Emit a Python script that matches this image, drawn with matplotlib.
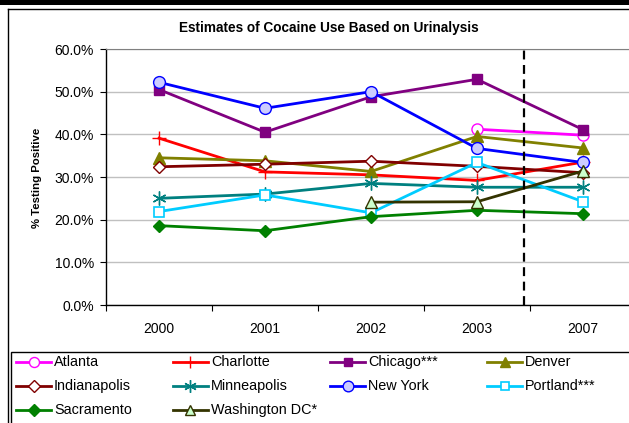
import matplotlib
matplotlib.use('Agg')
import matplotlib.pyplot as plt
from matplotlib.lines import Line2D
from matplotlib.patches import Rectangle
from matplotlib.ticker import FuncFormatter, FixedLocator
import numpy as np

plt.rcParams['font.family'] = ['Liberation Sans', 'DejaVu Sans']

years = ['2000', '2001', '2002', '2003', '2007']
atlanta = [np.nan, np.nan, np.nan, 41.2, 39.8]
charlotte = [39.1, 31.2, 30.5, 29.2, 33.5]
chicago = [50.5, 40.5, 48.8, 52.9, 41.1]
denver = [34.5, 33.8, 31.3, 39.5, 36.8]
indianapolis = [32.4, 33.0, 33.7, 32.5, 31.0]
minneapolis = [25.0, 26.0, 28.5, 27.6, 27.6]
new_york = [52.2, 46.1, 50.0, 36.7, 33.4]
portland = [21.9, 25.8, 21.6, 33.4, 24.2]
sacramento = [18.6, 17.4, 20.7, 22.2, 21.4]
washington = [np.nan, np.nan, 24.1, 24.2, 31.4]

names = ['Atlanta', 'Charlotte', 'Chicago***', 'Denver', 'Indianapolis',
         'Minneapolis', 'New York', 'Portland***', 'Sacramento', 'Washington DC*']
values = [atlanta, charlotte, chicago, denver, indianapolis,
          minneapolis, new_york, portland, sacramento, washington]

asterisk = (6, 2, 0)
styles = [
    dict(color='#FF00FF', marker='o', mfc='white', mec='#FF00FF', ms=8, mew=1.0),
    dict(color='#FF0000', marker='+', mfc='#FF0000', mec='#FF0000', ms=10, mew=1.0),
    dict(color='#800080', marker='s', mfc='#800080', mec='#800080', ms=6.8, mew=1.0),
    dict(color='#808000', marker='^', mfc='#808000', mec='#808000', ms=8, mew=1.0),
    dict(color='#800000', marker='D', mfc='white', mec='#800000', ms=6.5, mew=1.0),
    dict(color='#008080', marker=asterisk, mfc='#008080', mec='#008080', ms=10, mew=1.0),
    dict(color='#0000FF', marker='o', mfc='#CCCCFF', mec='#0000FF', ms=8.5, mew=1.0),
    dict(color='#00CCFF', marker='s', mfc='white', mec='#00CCFF', ms=7, mew=1.2),
    dict(color='#008000', marker='D', mfc='#008000', mec='#008000', ms=6.5, mew=1.0),
    dict(color='#333300', marker='^', mfc='#CCFFCC', mec='#333300', ms=8.5, mew=1.0),
]

W, H = 629, 423
fig = plt.figure(figsize=(W / 100, H / 100), dpi=100)


def fx(x):
    return x / W


def fy(y):
    return 1 - y / H


# top black bar and chart border
fig.add_artist(Rectangle((0, fy(5)), 1, 5 / H, transform=fig.transFigure,
                         facecolor='black', edgecolor='none'))
fig.add_artist(Line2D([fx(8), fx(8)], [fy(9), fy(430)], transform=fig.transFigure,
                      color='black', lw=1.0))
fig.add_artist(Line2D([fx(8), fx(640)], [fy(9), fy(9)], transform=fig.transFigure,
                      color='black', lw=1.0))

ax = fig.add_axes([fx(106), fy(305), 530 / W, 256 / H])
x = np.arange(len(years))
for name, vals, st in zip(names, values, styles):
    ax.plot(x, vals, lw=2.0, color=st['color'], marker=st['marker'],
            markerfacecolor=st['mfc'], markeredgecolor=st['mec'],
            markersize=st['ms'], markeredgewidth=st['mew'], clip_on=False)

ax.axvline(3.44, color='black', lw=1.6, ls=(0, (4, 2.5)), zorder=5)

ax.set_xlim(-0.5, 4.5)
ax.set_ylim(0, 60)
ax.set_yticks(np.arange(0, 61, 10))
ax.yaxis.set_major_formatter(FuncFormatter(lambda v, p: f'{v:.1f}%'))
ax.xaxis.set_major_locator(FixedLocator(np.arange(-0.5, 4.6, 1)))
ax.xaxis.set_major_formatter(FuncFormatter(lambda v, p: ''))
ax.xaxis.set_minor_locator(FixedLocator(x))
ax.set_xticklabels(years, minor=True)
ax.tick_params(axis='x', which='major', direction='out', length=4.3, width=0.8, color='black')
ax.tick_params(axis='x', which='minor', length=0, pad=12, labelsize=10)
ax.tick_params(axis='y', direction='out', length=4.3, width=0.8, pad=4.5, labelsize=10)
ax.grid(axis='y', color='#C0C0C0', lw=1.0)
ax.set_axisbelow(True)
ax.spines['right'].set_visible(False)
ax.spines['top'].set_color('#808080')
ax.spines['left'].set_linewidth(1.0)
ax.spines['bottom'].set_linewidth(1.0)

fig.text(fx(329), fy(28), 'Estimates of Cocaine Use Based on Urinalysis',
         ha='center', va='center', fontsize=9.8, fontweight='bold')
fig.text(fx(37), fy(178), '% Testing Positive', rotation=90, ha='center',
         va='center', fontsize=8.2, fontweight='bold')

# legend box
fig.add_artist(Rectangle((fx(11), fy(430)), fx(640) - fx(11), fy(352) - fy(430),
                         transform=fig.transFigure, facecolor='white',
                         edgecolor='black', lw=1.0))
for k in range(len(names)):
    row, col = divmod(k, 4)
    x0 = 16 + 157 * col
    yc = 362 + 24 * row
    st = styles[k]
    fig.add_artist(Line2D([fx(x0), fx(x0 + 35)], [fy(yc), fy(yc)],
                          transform=fig.transFigure, lw=2.0, color=st['color']))
    fig.add_artist(Line2D([fx(x0 + 17.5)], [fy(yc)], transform=fig.transFigure,
                          lw=0, marker=st['marker'], markerfacecolor=st['mfc'],
                          markeredgecolor=st['mec'], markersize=st['ms'] * 0.9,
                          markeredgewidth=st['mew']))
    fig.text(fx(x0 + 38), fy(yc), names[k], ha='left', va='center', fontsize=10.4)

fig.savefig('out.png', dpi=100)
